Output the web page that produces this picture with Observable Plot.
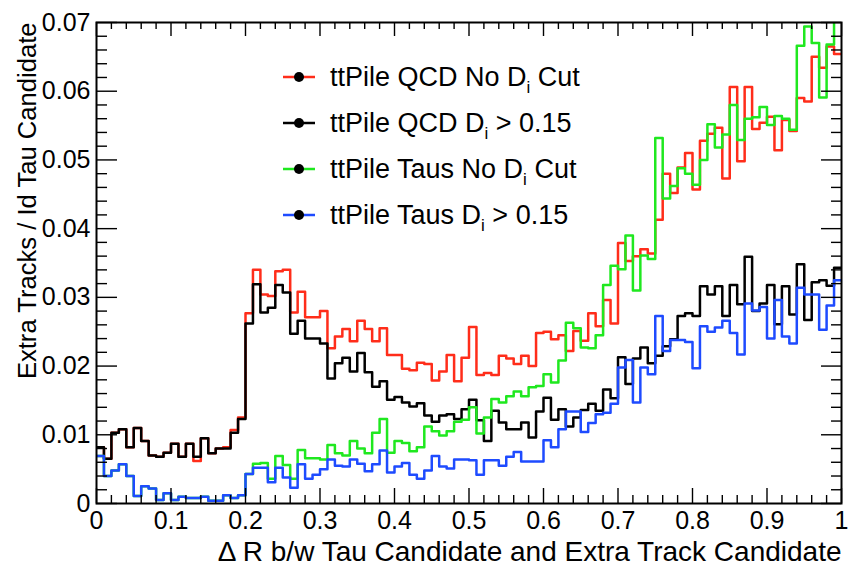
<!DOCTYPE html>
<html><head><meta charset="utf-8">
<script src="https://cdn.jsdelivr.net/npm/d3@7"></script>
<script src="https://cdn.jsdelivr.net/npm/@observablehq/plot@0.6"></script>
<style>
body{margin:0;background:#fff;}
#wrap{position:relative;width:851px;height:567px;font-family:"Liberation Sans",Arial,Helvetica,sans-serif;}
#legend{position:absolute;left:283px;top:54px;}
.row{height:46px;display:flex;align-items:center;font-size:27px;white-space:nowrap;}
.row svg{margin-right:15px;}
.row sub{font-size:17px;vertical-align:-7px;line-height:0;}
</style>
</head><body>
<div id="wrap"><div id="chart"></div><div id="legend"></div></div>
<script>
// Histogram: 100 bins over [0, 1]
const binCount = 100;
const xRange = [0, 1];
const yRange = [0, 0.07];
const xTicks = [0, 0.1, 0.2, 0.3, 0.4, 0.5, 0.6, 0.7, 0.8, 0.9, 1];
const yTicks = [0, 0.01, 0.02, 0.03, 0.04, 0.05, 0.06, 0.07];

const seriesNames = ["ttPile QCD No D_i Cut", "ttPile QCD D_i > 0.15", "ttPile Taus No D_i Cut", "ttPile Taus D_i > 0.15"];
const seriesColors = ["#ff2d1a", "#000000", "#1fe81f", "#1e4bff"];

const qcdNoCut = [
0.0082,0.0065,0.0103,0.0108,0.0082,0.0110,0.0091,0.0070,0.0068,0.0074,
0.0087,0.0068,0.0087,0.0062,0.0095,0.0073,0.0080,0.0082,0.0107,0.0125,
0.0277,0.0340,0.0304,0.0302,0.0338,0.0340,0.0278,0.0308,0.0271,0.0271,
0.0280,0.0226,0.0243,0.0254,0.0236,0.0266,0.0254,0.0236,0.0255,0.0216,
0.0216,0.0196,0.0194,0.0205,0.0203,0.0179,0.0192,0.0216,0.0178,0.0212,
0.0257,0.0187,0.0190,0.0187,0.0215,0.0211,0.0203,0.0215,0.0200,0.0248,
0.0250,0.0239,0.0245,0.0222,0.0251,0.0237,0.0277,0.0258,0.0296,0.0262,
0.0379,0.0353,0.0360,0.0370,0.0364,0.0413,0.0480,0.0452,0.0489,0.0510,
0.0457,0.0528,0.0538,0.0547,0.0473,0.0606,0.0498,0.0606,0.0545,0.0554,
0.0563,0.0514,0.0558,0.0542,0.0590,0.0585,0.0650,0.0634,0.0665,0.0654];

const qcdCut = [
0.0082,0.0065,0.0103,0.0108,0.0082,0.0110,0.0091,0.0070,0.0068,0.0074,
0.0087,0.0068,0.0087,0.0068,0.0095,0.0073,0.0080,0.0080,0.0103,0.0123,
0.0262,0.0319,0.0278,0.0285,0.0318,0.0307,0.0247,0.0266,0.0240,0.0240,
0.0233,0.0182,0.0204,0.0212,0.0192,0.0219,0.0191,0.0170,0.0178,0.0151,
0.0155,0.0147,0.0141,0.0146,0.0128,0.0119,0.0128,0.0130,0.0123,0.0137,
0.0151,0.0121,0.0091,0.0135,0.0118,0.0108,0.0108,0.0118,0.0096,0.0134,
0.0154,0.0122,0.0137,0.0112,0.0125,0.0136,0.0145,0.0135,0.0166,0.0153,
0.0213,0.0174,0.0211,0.0227,0.0204,0.0215,0.0229,0.0239,0.0273,0.0277,
0.0273,0.0316,0.0304,0.0316,0.0273,0.0318,0.0290,0.0359,0.0280,0.0291,
0.0318,0.0261,0.0316,0.0275,0.0348,0.0267,0.0322,0.0325,0.0317,0.0343];

const tausNoCut = [
0.0069,0.0040,0.0048,0.0057,0.0040,0.0011,0.0025,0.0022,0.0005,0.0015,
0.0005,0.0010,0.0008,0.0008,0.0010,0.0004,0.0004,0.0012,0.0008,0.0012,
0.0043,0.0058,0.0059,0.0036,0.0069,0.0056,0.0036,0.0078,0.0066,0.0066,
0.0064,0.0085,0.0073,0.0070,0.0091,0.0080,0.0073,0.0103,0.0123,0.0074,
0.0091,0.0088,0.0076,0.0082,0.0112,0.0105,0.0099,0.0105,0.0119,0.0122,
0.0140,0.0102,0.0125,0.0152,0.0147,0.0156,0.0163,0.0156,0.0169,0.0171,
0.0188,0.0176,0.0208,0.0263,0.0255,0.0227,0.0226,0.0245,0.0318,0.0346,
0.0341,0.0390,0.0310,0.0361,0.0356,0.0532,0.0444,0.0462,0.0488,0.0480,
0.0464,0.0500,0.0552,0.0518,0.0537,0.0580,0.0529,0.0560,0.0562,0.0577,
0.0551,0.0564,0.0560,0.0544,0.0666,0.0694,0.0670,0.0591,0.0668,0.0702];

const tausCut = [
0.0069,0.0040,0.0048,0.0057,0.0040,0.0011,0.0025,0.0022,0.0005,0.0015,
0.0005,0.0010,0.0008,0.0008,0.0010,0.0004,0.0004,0.0012,0.0008,0.0012,
0.0043,0.0052,0.0052,0.0031,0.0052,0.0038,0.0023,0.0057,0.0036,0.0042,
0.0050,0.0064,0.0055,0.0054,0.0064,0.0058,0.0047,0.0057,0.0077,0.0045,
0.0054,0.0059,0.0042,0.0036,0.0048,0.0069,0.0054,0.0051,0.0064,0.0064,
0.0063,0.0042,0.0063,0.0063,0.0055,0.0068,0.0075,0.0061,0.0061,0.0061,
0.0092,0.0082,0.0108,0.0134,0.0134,0.0104,0.0117,0.0130,0.0132,0.0145,
0.0198,0.0209,0.0147,0.0198,0.0188,0.0273,0.0222,0.0238,0.0238,0.0235,
0.0197,0.0258,0.0250,0.0256,0.0266,0.0248,0.0217,0.0291,0.0281,0.0286,
0.0240,0.0296,0.0243,0.0233,0.0314,0.0304,0.0304,0.0253,0.0288,0.0325];

const xTitle = "\u0394 R b/w Tau Candidate and Extra Track Candidate";
const yTitle = "Extra Tracks / Id Tau Candidate";

// ---- build step data (bin low edges + closing edge) ----
const binWidth = (xRange[1] - xRange[0]) / binCount;
function steps(values) {
  const pts = values.map((v, i) => ({x: xRange[0] + i * binWidth, y: v}));
  pts.push({x: xRange[1], y: values[values.length - 1]});
  return pts;
}
const allSeries = [qcdNoCut, qcdCut, tausNoCut, tausCut];

const W = 851, H = 567, mL = 96, mR = 10, mT = 22, mB = 64;
const plotW = W - mL - mR, plotH = H - mT - mB;

const xMinor = d3.range(0, 51).map(i => i * 0.02).filter((d, i) => i % 5 !== 0);
const yMinor = d3.range(0, 36).map(i => i * 0.002).filter((d, i) => i % 5 !== 0);
const fmt = d => String(d);
const tickStyle = {stroke: "black", strokeWidth: 1.4};

const chart = Plot.plot({
  width: W, height: H,
  marginLeft: mL, marginRight: mR, marginTop: mT, marginBottom: mB,
  style: {fontFamily: '"Liberation Sans", Arial, Helvetica, sans-serif', background: "white", color: "black"},
  x: {domain: xRange},
  y: {domain: yRange},
  marks: [
    ...allSeries.map((vals, k) => Plot.line(steps(vals), {x: "x", y: "y", curve: "step-after", stroke: seriesColors[k], strokeWidth: 2.5, clip: true})),
    // ticks inside the frame (ROOT style)
    Plot.tickX(xTicks, {x: d => d, insetTop: plotH - 15, ...tickStyle}),
    Plot.tickX(xMinor, {x: d => d, insetTop: plotH - 8, ...tickStyle}),
    Plot.tickX(xTicks, {x: d => d, insetBottom: plotH - 14, ...tickStyle}),
    Plot.tickX(xMinor, {x: d => d, insetBottom: plotH - 7, ...tickStyle}),
    Plot.tickY(yTicks, {y: d => d, insetRight: plotW - 21, ...tickStyle}),
    Plot.tickY(yMinor, {y: d => d, insetRight: plotW - 11, ...tickStyle}),
    Plot.tickY(yTicks, {y: d => d, insetLeft: plotW - 20, ...tickStyle}),
    Plot.tickY(yMinor, {y: d => d, insetLeft: plotW - 10, ...tickStyle}),
    Plot.axisX({ticks: xTicks, tickSize: 0, tickPadding: 8, fontSize: 25, tickFormat: fmt, label: null}),
    Plot.axisY({ticks: yTicks, tickSize: 0, tickPadding: 6, fontSize: 25, tickFormat: fmt, label: null}),
    Plot.text([xTitle], {text: d => d, frameAnchor: "bottom-right", dy: 57, textAnchor: "end", fontSize: 28}),
    Plot.text([yTitle], {text: d => d, frameAnchor: "top-left", dx: -79, rotate: -90, textAnchor: "end", fontSize: 25.6}),
    Plot.frame({stroke: "black", strokeWidth: 2})
  ]
});
document.getElementById("chart").appendChild(chart);

// ---- legend ----
const legend = document.getElementById("legend");
seriesNames.forEach((name, k) => {
  const row = document.createElement("div");
  row.className = "row";
  const [pre, post] = name.split("D_i");
  row.innerHTML =
    `<svg width="32" height="20" viewBox="0 0 32 20"><line x1="0" y1="10" x2="32" y2="10" stroke="${seriesColors[k]}" stroke-width="2.5"/><circle cx="16" cy="10" r="5" fill="black"/></svg>` +
    `<span>${pre}D<sub>i</sub>${post.replace(">", "&gt;")}</span>`;
  legend.appendChild(row);
});
</script>
</body></html>
